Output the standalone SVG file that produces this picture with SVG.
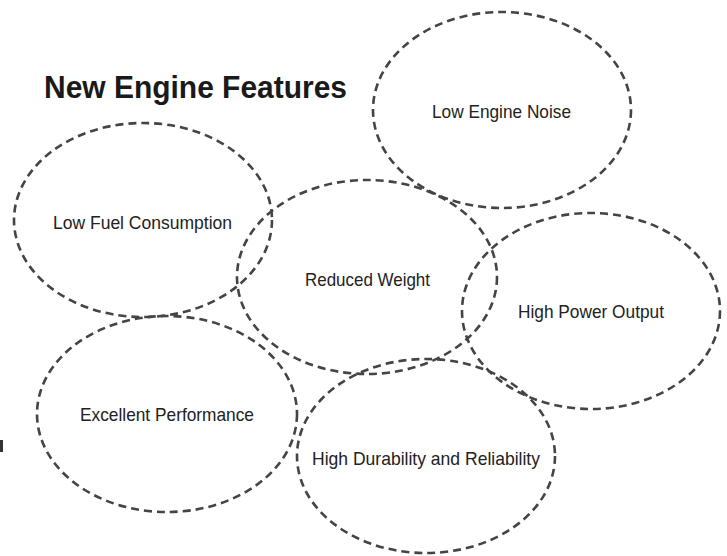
<svg xmlns="http://www.w3.org/2000/svg" width="727" height="556" viewBox="0 0 727 556">
<style>
.bubble{fill:none;stroke:#444;stroke-width:2.6;stroke-dasharray:8 5}
.lbl{font-family:"Liberation Sans",Arial,sans-serif;font-size:18.5px;fill:#222;text-anchor:start}
.title{font-family:"Liberation Sans",Arial,sans-serif;font-size:32px;font-weight:bold;fill:#1a1a1a}
</style>
<rect width="727" height="556" fill="#fff"/>
<text class="title" x="44" y="98" textLength="303" lengthAdjust="spacingAndGlyphs">New Engine Features</text>
<rect x="0" y="440" width="3" height="12" fill="#333"/>
<g id="connectors"></g>
<g id="node-noise">
<ellipse class="bubble" cx="502" cy="110" rx="129" ry="98"/>
<text class="lbl" x="432" y="118" textLength="139" lengthAdjust="spacingAndGlyphs">Low Engine Noise</text>
</g>
<g id="node-fuel">
<ellipse class="bubble" cx="143" cy="220" rx="129" ry="97"/>
<text class="lbl" x="53" y="229" textLength="179" lengthAdjust="spacingAndGlyphs">Low Fuel Consumption</text>
</g>
<g id="node-weight">
<ellipse class="bubble" cx="367" cy="277" rx="130" ry="97"/>
<text class="lbl" x="305" y="286" textLength="125" lengthAdjust="spacingAndGlyphs">Reduced Weight</text>
</g>
<g id="node-power">
<ellipse class="bubble" cx="591" cy="311" rx="129" ry="98"/>
<text class="lbl" x="518" y="318" textLength="146" lengthAdjust="spacingAndGlyphs">High Power Output</text>
</g>
<g id="node-performance">
<ellipse class="bubble" cx="167" cy="414" rx="130" ry="98"/>
<text class="lbl" x="80" y="421" textLength="174" lengthAdjust="spacingAndGlyphs">Excellent Performance</text>
</g>
<g id="node-durability">
<ellipse class="bubble" cx="426" cy="456" rx="129" ry="97"/>
<text class="lbl" x="312" y="465" textLength="228" lengthAdjust="spacingAndGlyphs">High Durability and Reliability</text>
</g>
</svg>
